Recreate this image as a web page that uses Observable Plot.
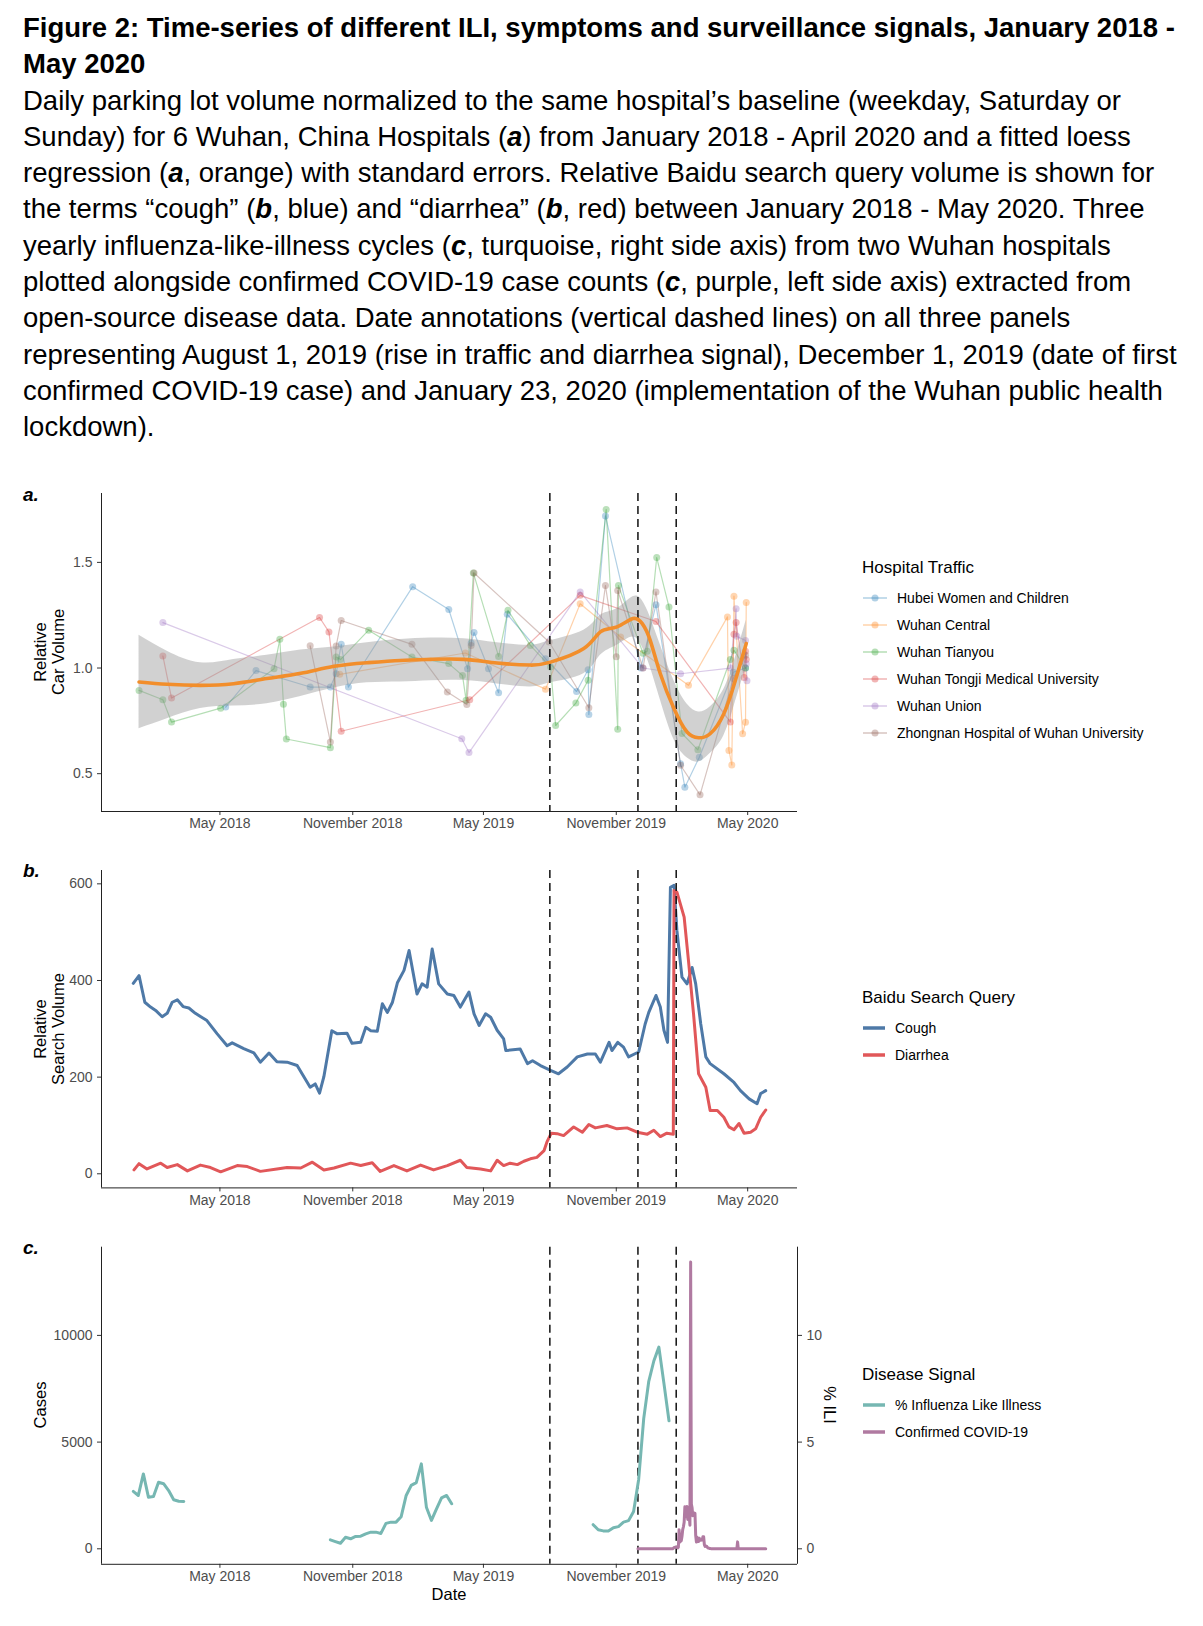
<!DOCTYPE html>
<html><head><meta charset="utf-8">
<script src="https://cdn.jsdelivr.net/npm/d3@7"></script>
<script src="https://cdn.jsdelivr.net/npm/@observablehq/plot@0.6"></script>
<style>
body{margin:0;background:#fff;font-family:"Liberation Sans",Arial,sans-serif;}
#page{position:relative;width:1203px;height:1626px;overflow:hidden;background:#fff;}
#text{position:absolute;left:23px;top:10px;font-size:27.5px;line-height:36.3px;color:#000;white-space:nowrap;}
#text .t{font-weight:bold;}
.ytitle{position:absolute;font-size:16.5px;line-height:18.3px;text-align:center;white-space:nowrap;color:#000;transform:translate(-50%,-50%) rotate(-90deg);}
.ytitleR{position:absolute;font-size:16.5px;line-height:18.3px;white-space:nowrap;color:#000;transform:translate(-50%,-50%) rotate(90deg);}
.plabel{position:absolute;font-size:19px;font-weight:bold;font-style:italic;transform:translateY(-50%);}
.legend{position:absolute;left:862px;color:#000;}
.legend .lt{font-size:17px;line-height:20px;height:20px;margin-bottom:6px;}
.legend .li{display:flex;align-items:center;height:27px;font-size:14px;}
.legend .li svg{margin-right:10px;margin-left:1px;}
.xtitle{position:absolute;font-size:16.5px;transform:translate(-50%,-50%);}
</style>
</head><body>
<div id="page">
<div id="text">
<div class="t">Figure 2: Time-series of different ILI, symptoms and surveillance signals, January 2018 -</div>
<div class="t">May 2020</div>
<div>Daily parking lot volume normalized to the same hospital’s baseline (weekday, Saturday or</div>
<div>Sunday) for 6 Wuhan, China Hospitals (<b><i>a</i></b>) from January 2018 - April 2020 and a fitted loess</div>
<div>regression (<b><i>a</i></b>, orange) with standard errors. Relative Baidu search query volume is shown for</div>
<div>the terms “cough” (<b><i>b</i></b>, blue) and “diarrhea” (<b><i>b</i></b>, red) between January 2018 - May 2020. Three</div>
<div>yearly influenza-like-illness cycles (<b><i>c</i></b>, turquoise, right side axis) from two Wuhan hospitals</div>
<div>plotted alongside confirmed COVID-19 case counts (<b><i>c</i></b>, purple, left side axis) extracted from</div>
<div>open-source disease data. Date annotations (vertical dashed lines) on all three panels</div>
<div>representing August 1, 2019 (rise in traffic and diarrhea signal), December 1, 2019 (date of first</div>
<div>confirmed COVID-19 case) and January 23, 2020 (implementation of the Wuhan public health</div>
<div>lockdown).</div>
</div>
</div>
<script>
// ---------- shared ----------
const xDomain = ["2017-11-18", "2020-07-09"];
const xTicks = ["2018-05-01", "2018-11-01", "2019-05-01", "2019-11-01", "2020-05-01"];
const eventDates = ["2019-08-01", "2019-12-01", "2020-01-23"];

// ---------- panel a: hospital traffic ----------
const hospitals = ["Hubei Women and Children", "Wuhan Central", "Wuhan Tianyou", "Wuhan Tongji Medical University", "Wuhan Union", "Zhongnan Hospital of Wuhan University"];
const hospitalColors = ["#1f77b4", "#ff7f0e", "#2ca02c", "#d62728", "#9467bd", "#8c564b"];

const hubeiWomen = [["2018-05-09",0.815],["2018-06-20",0.988],["2018-09-03",0.91],["2018-10-01",0.91],["2018-10-09",0.973],["2018-10-16",1.112],["2018-10-26",0.91],["2019-01-23",1.385],["2019-03-14",1.277],["2019-04-09",0.997],["2019-04-14",1.119],["2019-04-18",1.168],["2019-05-08",0.997],["2019-05-22",0.883],["2019-06-03",1.254],["2019-07-26",1.044],["2019-09-07",0.889],["2019-09-23",0.992],["2019-09-24",0.78],["2019-10-17",1.72],["2019-12-05",1.0],["2019-12-26",1.30],["2020-01-29",0.547],["2020-02-04",0.436],["2020-02-24",0.578],["2020-04-11",0.98],["2020-04-28",1.0]];
const wuhanCentral = [["2018-10-14",0.97],["2019-04-06",1.071],["2019-07-26",0.90],["2019-09-12",1.304],["2019-11-07",1.147],["2020-02-09",0.918],["2020-04-03",1.242],["2020-04-05",0.61],["2020-04-09",0.541],["2020-04-12",1.34],["2020-04-24",0.689],["2020-04-28",0.743],["2020-04-29",1.31]];
const wuhanTianyou = [["2018-01-09",0.894],["2018-02-11",0.85],["2018-02-23",0.744],["2018-05-02",0.81],["2018-07-15",0.997],["2018-07-23",1.136],["2018-07-28",0.829],["2018-08-01",0.664],["2018-10-01",0.623],["2018-10-09",1.052],["2018-10-15",1.04],["2018-11-23",1.179],["2019-01-22",1.052],["2019-03-14",1.021],["2019-04-02",0.965],["2019-04-07",0.847],["2019-04-17",1.45],["2019-05-22",1.055],["2019-06-04",1.273],["2019-07-05",1.107],["2019-08-02",1.005],["2019-08-09",0.728],["2019-09-06",0.834],["2019-09-23",0.942],["2019-10-18",1.75],["2019-11-03",0.71],["2019-11-04",1.39],["2019-12-08",1.07],["2019-12-14",1.08],["2019-12-27",1.523],["2020-01-13",1.289],["2020-01-31",0.69],["2020-02-22",0.613],["2020-04-07",1.04],["2020-04-12",1.084],["2020-04-28",1.0]];
const wuhanTongji = [["2018-02-11",1.057],["2018-02-23",0.858],["2018-09-16",1.239],["2018-09-29",1.171],["2018-10-16",0.701],["2019-04-12",0.85],["2019-09-12",1.344],["2019-12-26",1.22],["2020-04-07",0.744],["2020-04-12",1.16],["2020-04-15",1.216],["2020-04-26",0.955],["2020-04-28",1.08],["2020-04-29",1.04]];
const wuhanUnion = [["2018-02-11",1.215],["2019-04-01",0.665],["2019-04-11",0.60],["2019-09-12",1.36],["2019-12-08",1.0],["2020-01-29",0.973],["2020-04-07",1.0],["2020-04-15",1.28],["2020-04-16",1.15],["2020-04-28",1.13],["2020-04-29",1.02],["2020-04-30",0.94]];
const zhongnan = [["2018-09-03",1.105],["2018-10-01",0.65],["2018-10-09",1.104],["2018-10-16",1.225],["2019-01-22",1.112],["2019-03-12",0.886],["2019-04-08",0.827],["2019-04-14",1.107],["2019-04-18",1.45],["2019-07-31",1.123],["2019-09-24",0.812],["2019-10-17",1.39],["2019-11-01",1.053],["2019-11-03",1.367],["2019-12-08",1.0],["2019-12-26",1.36],["2020-01-29",0.54],["2020-02-25",0.40],["2020-04-11",0.95],["2020-04-28",1.06]];

// loess fit: [date, fit, lower, upper]
const loessRows = [["2018-01-09",0.934,0.713,1.155],["2018-02-17",0.923,0.76,1.08],["2018-04-04",0.918,0.808,1.025],["2018-05-20",0.926,0.82,1.04],["2018-07-05",0.950,0.831,1.06],["2018-08-21",0.975,0.865,1.085],["2018-10-06",1.008,0.905,1.10],["2018-11-21",1.025,0.93,1.12],["2019-01-06",1.036,0.934,1.135],["2019-02-17",1.041,0.94,1.142],["2019-04-04",1.041,0.941,1.139],["2019-05-20",1.024,0.925,1.12],["2019-07-05",1.014,0.91,1.108],["2019-08-02",1.028,0.93,1.13],["2019-09-17",1.092,0.973,1.179],["2019-10-10",1.171,1.06,1.25],["2019-11-02",1.195,1.108,1.281],["2019-11-24",1.234,1.147,1.337],["2019-12-07",1.21,1.10,1.32],["2019-12-18",1.131,1.005,1.242],["2020-01-01",0.973,0.85,1.11],["2020-01-20",0.807,0.66,0.94],["2020-02-07",0.697,0.575,0.83],["2020-02-23",0.670,0.555,0.792],["2020-03-10",0.689,0.595,0.816],["2020-03-29",0.784,0.68,0.90],["2020-04-14",0.942,0.84,1.05],["2020-04-29",1.116,1.005,1.226]];

const aDomain = [0.321, 1.826];
const aTicks = [0.5, 1.0, 1.5];

// ---------- panel b: Baidu search ----------
const cough = [["2018-01-01",394],["2018-01-09",410],["2018-01-17",355],["2018-01-25",345],["2018-02-01",338],["2018-02-10",325],["2018-02-17",332],["2018-02-24",355],["2018-03-03",360],["2018-03-11",346],["2018-03-19",343],["2018-03-28",332],["2018-04-13",317],["2018-04-27",290],["2018-05-11",265],["2018-05-18",271],["2018-06-03",259],["2018-06-17",250],["2018-06-26",231],["2018-07-08",250],["2018-07-19",232],["2018-08-02",231],["2018-08-16",224],["2018-09-03",179],["2018-09-10",186],["2018-09-16",167],["2018-09-22",201],["2018-10-03",296],["2018-10-10",290],["2018-10-24",291],["2018-10-31",270],["2018-11-12",272],["2018-11-19",303],["2018-11-26",296],["2018-12-05",295],["2018-12-12",352],["2018-12-19",334],["2018-12-26",355],["2019-01-02",396],["2019-01-11",421],["2019-01-18",462],["2019-01-29",372],["2019-02-05",393],["2019-02-12",386],["2019-02-19",465],["2019-02-28",393],["2019-03-12",372],["2019-03-21",369],["2019-03-30",345],["2019-04-11",376],["2019-04-18",331],["2019-04-25",307],["2019-05-04",331],["2019-05-11",324],["2019-05-20",297],["2019-05-29",279],["2019-06-01",255],["2019-06-21",258],["2019-07-01",228],["2019-07-08",234],["2019-07-19",224],["2019-08-02",214],["2019-08-13",207],["2019-08-25",221],["2019-09-08",242],["2019-09-22",248],["2019-10-03",248],["2019-10-10",231],["2019-10-22",272],["2019-10-26",255],["2019-11-03",272],["2019-11-11",262],["2019-11-18",242],["2019-12-02",252],["2019-12-11",310],["2019-12-16",334],["2019-12-26",369],["2020-01-01",345],["2020-01-06",297],["2020-01-11",272],["2020-01-15",593],["2020-01-20",597],["2020-01-24",503],["2020-01-31",407],["2020-02-07",393],["2020-02-14",427],["2020-02-19",393],["2020-02-26",310],["2020-03-04",242],["2020-03-10",228],["2020-03-29",207],["2020-04-12",189],["2020-04-21",172],["2020-05-03",155],["2020-05-14",145],["2020-05-19",166],["2020-05-26",172]];
const diarrhea = [["2018-01-02",8],["2018-01-09",21],["2018-01-20",10],["2018-02-08",22],["2018-02-17",13],["2018-03-03",19],["2018-03-17",6],["2018-04-04",18],["2018-04-18",13],["2018-05-02",4],["2018-05-25",17],["2018-06-08",15],["2018-06-26",5],["2018-07-19",10],["2018-08-02",13],["2018-08-21",12],["2018-09-06",24],["2018-09-22",8],["2018-10-06",12],["2018-10-29",22],["2018-11-12",17],["2018-11-28",23],["2018-12-09",5],["2018-12-28",17],["2019-01-15",6],["2019-02-03",18],["2019-02-21",8],["2019-03-12",17],["2019-03-30",28],["2019-04-08",13],["2019-04-27",10],["2019-05-11",6],["2019-05-20",28],["2019-05-29",17],["2019-06-07",22],["2019-06-17",19],["2019-06-26",26],["2019-07-05",31],["2019-07-14",34],["2019-07-24",48],["2019-07-28",66],["2019-08-03",84],["2019-08-11",83],["2019-08-20",79],["2019-09-03",97],["2019-09-15",86],["2019-09-24",102],["2019-10-03",95],["2019-10-19",100],["2019-11-02",93],["2019-11-16",95],["2019-11-30",86],["2019-12-14",82],["2019-12-23",90],["2020-01-01",77],["2020-01-10",84],["2020-01-19",82],["2020-01-20",586],["2020-01-24",583],["2020-02-03",531],["2020-02-09",441],["2020-02-16",331],["2020-02-23",207],["2020-03-04",179],["2020-03-10",131],["2020-03-20",131],["2020-03-29",117],["2020-04-05",97],["2020-04-12",91],["2020-04-19",104],["2020-04-26",84],["2020-05-05",86],["2020-05-12",93],["2020-05-19",117],["2020-05-26",132]];
const bDomain = [-29.2, 627.6];
const bTicks = [0, 200, 400, 600];

// ---------- panel c: disease signal ----------
const iliSeason1 = [["2018-01-01",2.69],["2018-01-08",2.50],["2018-01-15",3.51],["2018-01-22",2.42],["2018-01-29",2.45],["2018-02-05",3.12],["2018-02-12",3.05],["2018-02-19",2.73],["2018-02-26",2.30],["2018-03-05",2.23],["2018-03-12",2.22]];
const iliSeason2 = [["2018-10-01",0.42],["2018-10-08",0.34],["2018-10-15",0.26],["2018-10-22",0.54],["2018-10-29",0.47],["2018-11-05",0.58],["2018-11-12",0.59],["2018-11-19",0.70],["2018-11-26",0.78],["2018-12-03",0.78],["2018-12-10",0.72],["2018-12-17",1.19],["2018-12-24",1.25],["2018-12-31",1.25],["2019-01-07",1.50],["2019-01-14",2.50],["2019-01-21",2.97],["2019-01-28",3.10],["2019-02-04",3.98],["2019-02-11",1.95],["2019-02-18",1.33],["2019-02-25",1.87],["2019-03-04",2.39],["2019-03-11",2.50],["2019-03-18",2.11]];
const iliSeason3 = [["2019-09-30",1.13],["2019-10-07",0.89],["2019-10-14",0.84],["2019-10-21",0.83],["2019-10-28",0.99],["2019-11-04",1.04],["2019-11-11",1.25],["2019-11-18",1.32],["2019-11-25",1.75],["2019-12-02",3.25],["2019-12-09",6.1],["2019-12-16",7.85],["2019-12-23",8.8],["2019-12-30",9.45],["2020-01-06",7.75],["2020-01-13",6.0]];
const covidCases = [["2019-12-01",0],["2020-01-18",0],["2020-01-20",60],["2020-01-22",70],["2020-01-24",77],["2020-01-25",46],["2020-01-26",80],["2020-01-27",892],["2020-01-28",315],["2020-01-29",356],["2020-01-30",378],["2020-01-31",576],["2020-02-01",894],["2020-02-02",1033],["2020-02-03",1242],["2020-02-04",1967],["2020-02-05",1766],["2020-02-06",1501],["2020-02-07",1985],["2020-02-08",1379],["2020-02-09",1921],["2020-02-10",1552],["2020-02-11",1104],["2020-02-12",13436],["2020-02-13",2100],["2020-02-14",1923],["2020-02-15",1548],["2020-02-16",1690],["2020-02-17",1600],["2020-02-18",1660],["2020-02-19",615],["2020-02-20",319],["2020-02-21",541],["2020-02-22",348],["2020-02-23",348],["2020-02-24",499],["2020-02-25",401],["2020-02-26",401],["2020-02-27",409],["2020-02-28",418],["2020-02-29",565],["2020-03-01",570],["2020-03-02",193],["2020-03-03",114],["2020-03-04",131],["2020-03-05",126],["2020-03-06",74],["2020-03-07",41],["2020-03-08",36],["2020-03-09",17],["2020-03-10",13],["2020-03-11",8],["2020-03-12",5],["2020-03-13",4],["2020-03-15",4],["2020-03-17",1],["2020-03-18",0],["2020-04-16",0],["2020-04-17",325],["2020-04-18",0],["2020-05-26",0]];
const cDomain = [-726, 14133];
const casesTicks = [0, 5000, 10000];
const iliTicks = [0, 5, 10];
const iliToCases = 1000; // right axis: 10 % ILI sits at 10000 cases

// ---------- build ----------
const page = document.getElementById("page");
const D = s => new Date(s);
const xDom = xDomain.map(D);
const xTickDates = xTicks.map(D);
const events = eventDates.map(D);
const fmtX = d3.utcFormat("%B %Y");

const hospitalSeries = [hubeiWomen, wuhanCentral, wuhanTianyou, wuhanTongji, wuhanUnion, zhongnan];
const traffic = hospitals.flatMap((h, i) => hospitalSeries[i].map(([d, v]) => ({hospital: h, date: D(d), value: v})));
const loess = loessRows.map(([d, f, lo, hi]) => ({date: D(d), fit: f, lo, hi}));
const rows = (pairs, extra = {}) => pairs.map(([d, v]) => ({date: D(d), value: v, ...extra}));
const ili = [...rows(iliSeason1, {season: 1}), ...rows(iliSeason2, {season: 2}), ...rows(iliSeason3, {season: 3})];

const W = 1203, ML = 101, MR = 406;
const baseStyle = {fontFamily: "'Liberation Sans', Arial, sans-serif", fontSize: "14px", color: "#4d4d4d", background: "transparent", overflow: "visible"};
const xAxis = () => Plot.axisX({ticks: xTickDates, tickFormat: fmtX, tickSize: 4, tickPadding: 3, label: null, stroke: "#333", fill: "#4d4d4d"});
const yAxis = (ticks, fmt, anchor = "left") => Plot.axisY({anchor, ticks, tickFormat: fmt, tickSize: 4, tickPadding: 5, label: null, stroke: "#333", fill: "#4d4d4d"});
const axisLines = (yDom, right = false) => [
  Plot.ruleY([yDom[0]], {stroke: "#222", strokeWidth: 1}),
  Plot.ruleX([xDom[0]], {stroke: "#222", strokeWidth: 1}),
  ...(right ? [Plot.ruleX([xDom[1]], {stroke: "#222", strokeWidth: 1})] : [])
];
const vlines = () => Plot.ruleX(events, {x: d => d, stroke: "#111", strokeWidth: 1.5, strokeDasharray: "8,5"});

function place(el, top) {
  el.style.position = "absolute"; el.style.left = "0px"; el.style.top = top + "px";
  page.appendChild(el);
}

// panel a
const plotA = Plot.plot({
  width: W, height: 380, marginLeft: ML, marginRight: MR, marginTop: 23, marginBottom: 39,
  style: baseStyle,
  x: {type: "utc", domain: xDom},
  y: {domain: aDomain},
  color: {domain: hospitals, range: hospitalColors},
  marks: [
    Plot.line(traffic, {x: "date", y: "value", z: "hospital", stroke: "hospital", strokeOpacity: 0.35, strokeWidth: 1.2}),
    Plot.dot(traffic, {x: "date", y: "value", fill: "hospital", fillOpacity: 0.32, r: 3.5, stroke: null}),
    Plot.areaY(loess, {x: "date", y1: "lo", y2: "hi", fill: "#999", fillOpacity: 0.45, curve: "natural"}),
    vlines(),
    Plot.line(loess, {x: "date", y: "fit", stroke: "#f28e2b", strokeWidth: 3.6, curve: "natural"}),
    xAxis(), yAxis(aTicks, d3.format(".1f")), ...axisLines(aDomain)
  ]
});
place(plotA, 470);

// panel b
const plotB = Plot.plot({
  width: W, height: 380, marginLeft: ML, marginRight: MR, marginTop: 20, marginBottom: 42.6,
  style: baseStyle,
  x: {type: "utc", domain: xDom},
  y: {domain: bDomain},
  marks: [
    Plot.line(rows(cough), {x: "date", y: "value", stroke: "#4e79a7", strokeWidth: 3}),
    Plot.line(rows(diarrhea), {x: "date", y: "value", stroke: "#e15759", strokeWidth: 3}),
    vlines(),
    xAxis(), yAxis(bTicks, d3.format("d")), ...axisLines(bDomain)
  ]
});
place(plotB, 850);

// panel c
const plotC = Plot.plot({
  width: W, height: 400, marginLeft: ML, marginRight: MR, marginTop: 21.7, marginBottom: 61.2,
  style: baseStyle,
  x: {type: "utc", domain: xDom},
  y: {domain: cDomain},
  marks: [
    vlines(),
    Plot.line(ili, {x: "date", y: d => d.value * iliToCases, z: "season", stroke: "#76b7b2", strokeWidth: 3}),
    Plot.line(rows(covidCases), {x: "date", y: "value", stroke: "#b07aa1", strokeWidth: 3}),
    xAxis(), yAxis(casesTicks, d3.format("d")),
    yAxis(iliTicks.map(v => v * iliToCases), d => d3.format("d")(d / iliToCases), "right"),
    ...axisLines(cDomain, true)
  ]
});
place(plotC, 1225);

// ---------- annotations (HTML) ----------
function addDiv(cls, html, left, top) {
  const d = document.createElement("div"); d.className = cls; d.innerHTML = html;
  d.style.left = left + "px"; d.style.top = top + "px"; page.appendChild(d); return d;
}
addDiv("plabel", "a.", 23, 495);
addDiv("plabel", "b.", 23, 871);
addDiv("plabel", "c.", 23, 1248);
addDiv("ytitle", "Relative<br>Car Volume", 49, 652);
addDiv("ytitle", "Relative<br>Search Volume", 49, 1029);
addDiv("ytitle", "Cases", 40, 1405);
addDiv("ytitleR", "% ILI", 830, 1405);
addDiv("xtitle", "Date", 449, 1594);

function legend(top, title, items) {
  const d = document.createElement("div"); d.className = "legend"; d.style.top = top + "px";
  let h = `<div class="lt">${title}</div>`;
  for (const it of items) {
    const sw = it.dot
      ? `<svg width="24" height="12"><line x1="0" x2="24" y1="6" y2="6" stroke="${it.color}" stroke-opacity="0.4" stroke-width="1.3"/><circle cx="12" cy="6" r="3.5" fill="${it.color}" fill-opacity="0.35"/></svg>`
      : `<svg width="22" height="12"><line x1="0" x2="22" y1="6" y2="6" stroke="${it.color}" stroke-width="3.5"/></svg>`;
    h += `<div class="li">${sw}<span>${it.label}</span></div>`;
  }
  d.innerHTML = h; page.appendChild(d);
}
legend(558, "Hospital Traffic", hospitals.map((h, i) => ({label: h, color: hospitalColors[i], dot: true})));
legend(988, "Baidu Search Query", [{label: "Cough", color: "#4e79a7"}, {label: "Diarrhea", color: "#e15759"}]);
legend(1365, "Disease Signal", [{label: "% Influenza Like Illness", color: "#76b7b2"}, {label: "Confirmed COVID-19", color: "#b07aa1"}]);
</script>
</body></html>
